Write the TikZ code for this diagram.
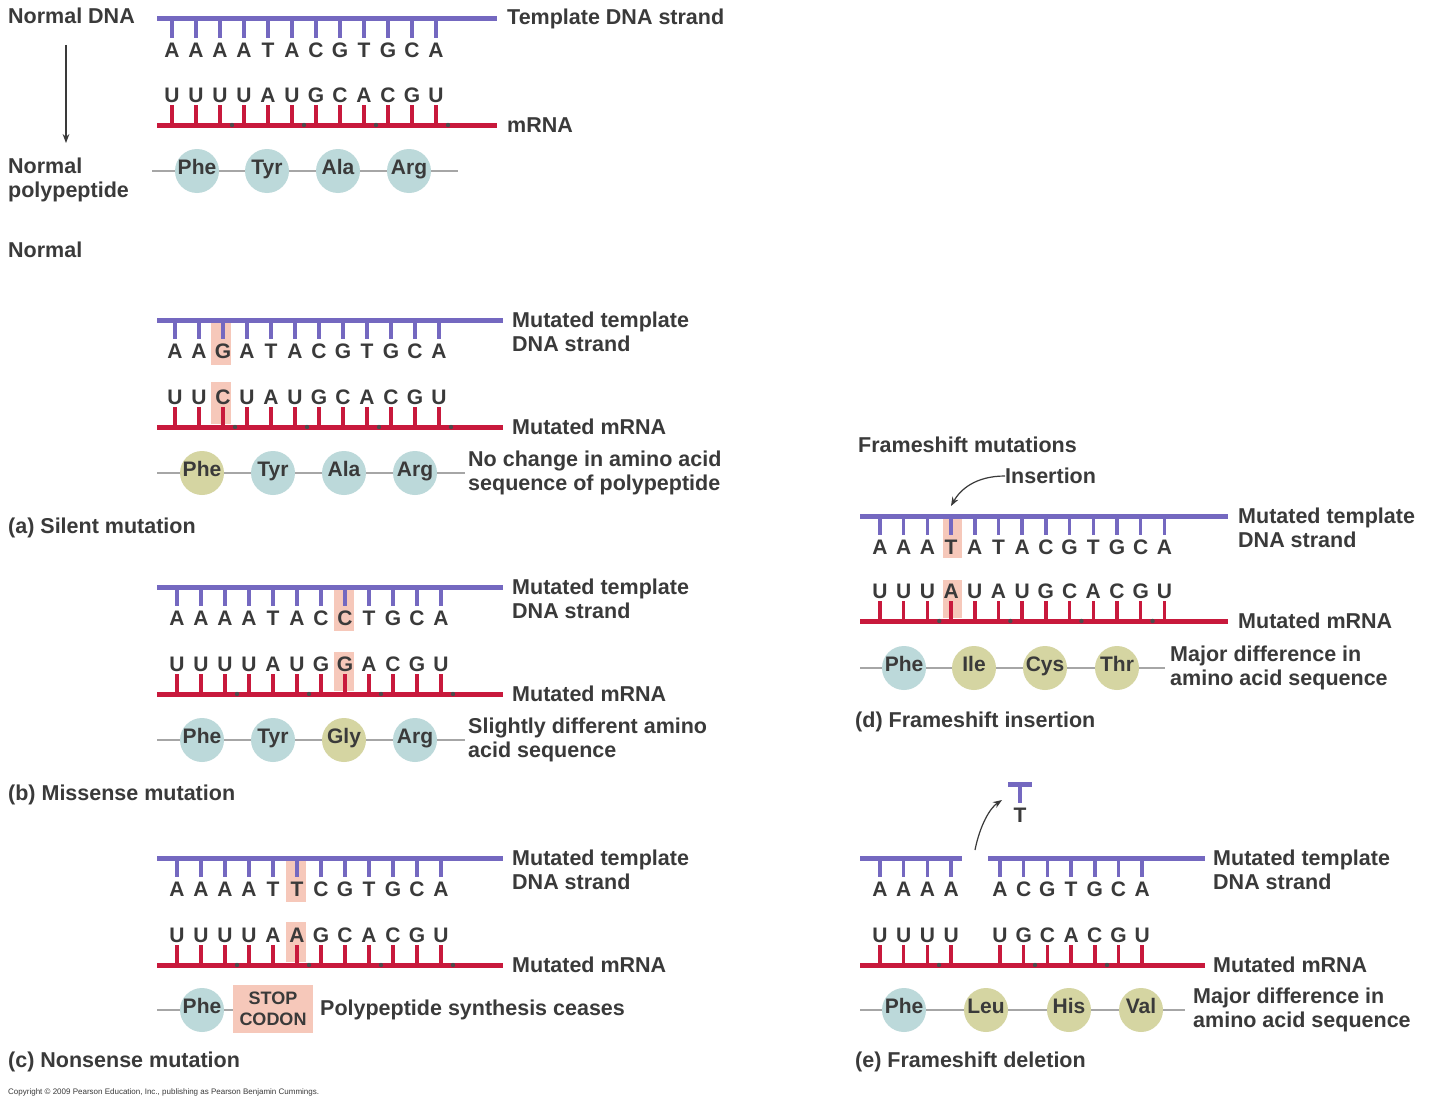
\documentclass[tikz,border=0pt]{standalone}
\usepackage{fontspec}
\setmainfont{Liberation Sans}
\usetikzlibrary{arrows.meta}
\begin{document}
\begin{tikzpicture}[x=1pt,y=-1pt,font=\fontsize{21}{23}\selectfont\bfseries]
\definecolor{dnac}{HTML}{7468C0}
\definecolor{rnac}{HTML}{C8193C}
\definecolor{txt}{HTML}{3A3A3A}
\definecolor{aab}{HTML}{BCD9DA}
\definecolor{aao}{HTML}{D5D5A2}
\definecolor{hl}{HTML}{F6C8BA}
\tikzset{
 dnaline/.style={line width=5pt,draw=dnac},
 rnaline/.style={line width=5pt,draw=rnac},
 dtick/.style={line width=3.5pt,draw=dnac},
 rtick/.style={line width=3.5pt,draw=rnac},
 base/.style={text=txt,inner sep=0pt},
 lbl/.style={text=txt,anchor=west,align=left,inner sep=0pt,font=\fontsize{21.5}{23.5}\selectfont\bfseries},
 aa/.style={circle,minimum size=44pt,inner sep=0pt,text=txt,fill=#1,text height=1.5ex,text depth=.3ex},
 chain/.style={draw=gray!70,line width=1.5pt},
}
\newcommand\dnaTicks[4]{\foreach \l [count=\i from 0] in {#4}{\draw[dtick] ({#1+#2*\i},#3) -- ++(0,19); \node[base] at ({#1+#2*\i},#3+31) {\l};}}
\newcommand\rnaTicks[4]{\foreach \l [count=\i from 0] in {#4}{\draw[rtick] ({#1+#2*\i},#3) -- ++(0,-20); \node[base] at ({#1+#2*\i},#3-30) {\l};}}
\newcommand\codonDots[3]{\foreach \i in {0,1,2,3}{\fill[black!70] ({#1+#2*(2.5+3*\i)},#3) circle (2.2);}}
\useasboundingbox (0,0) rectangle (1440,1108);
\fill[white] (0,0) rectangle (1440,1108);

% ---------- Normal ----------
\node[lbl,anchor=north west] (ndna) at (8,8) {Normal DNA};
\draw[dnaline] (157,19) -- (497,19);
\dnaTicks{172}{24}{19}{A,A,A,A,T,A,C,G,T,G,C,A}
\node[lbl] (t0) at (507,19) {Template DNA strand};
\draw[rnaline] (157,125) -- (497,125);
\rnaTicks{172}{24}{125}{U,U,U,U,A,U,G,C,A,C,G,U}
\codonDots{172}{24}{125}
\node[lbl] (m0) at (507,125) {mRNA};
\node[lbl,anchor=north west] (npp) at (8,158) {Normal\\polypeptide};
\draw[-{Stealth[length=9pt]},line width=1.2pt,txt] (66,45) -- (66,143);
\draw[chain] (152,171) -- (458,171);
\foreach \x/\t [count=\k] in {197/Phe,267/Tyr,338/Ala,409/Arg}{\node[aa=aab] (p0\k) at (\x,171) {\t};}
\node[lbl] (nor) at (8,250) {Normal};

% ---------- (a) ----------
\fill[hl] (211,323) rectangle (231,365);
\fill[hl] (211,382) rectangle (231,424);
\draw[dnaline] (157,320) -- (503,320);
\dnaTicks{175}{24}{320}{A,A,G,A,T,A,C,G,T,G,C,A}
\node[lbl] at (512,332) {Mutated template\\DNA strand};
\draw[rnaline] (157,427) -- (503,427);
\rnaTicks{175}{24}{427}{U,U,C,U,A,U,G,C,A,C,G,U}
\codonDots{175}{24}{427}
\node[lbl] at (512,427) {Mutated mRNA};
\draw[chain] (157,473) -- (465,473);
\foreach \x/\t/\c [count=\k] in {202/Phe/aao,273/Tyr/aab,344/Ala/aab,415/Arg/aab}{\node[aa=\c] (pa\k) at (\x,473) {\t};}
\node[lbl] at (468,473) {No change in amino acid\\sequence of polypeptide};
\node[lbl] at (8,528) {(a) Silent mutation};

% ---------- (b) ----------
\fill[hl] (334,590) rectangle (354,631);
\fill[hl] (334,652) rectangle (354,691);
\draw[dnaline] (157,587) -- (503,587);
\dnaTicks{177}{24}{587}{A,A,A,A,T,A,C,C,T,G,C,A}
\node[lbl] at (512,599) {Mutated template\\DNA strand};
\draw[rnaline] (157,694) -- (503,694);
\rnaTicks{177}{24}{694}{U,U,U,U,A,U,G,G,A,C,G,U}
\codonDots{177}{24}{694}
\node[lbl] at (512,694) {Mutated mRNA};
\draw[chain] (157,740) -- (465,740);
\foreach \x/\t/\c [count=\k] in {202/Phe/aab,273/Tyr/aab,344/Gly/aao,415/Arg/aab}{\node[aa=\c] (pb\k) at (\x,740) {\t};}
\node[lbl] at (468,740) {Slightly different amino\\acid sequence};
\node[lbl] at (8,795) {(b) Missense mutation};

% ---------- (c) ----------
\fill[hl] (286,861) rectangle (306,902);
\fill[hl] (286,922) rectangle (306,962);
\draw[dnaline] (157,858) -- (503,858);
\dnaTicks{177}{24}{858}{A,A,A,A,T,T,C,G,T,G,C,A}
\node[lbl] at (512,870) {Mutated template\\DNA strand};
\draw[rnaline] (157,965) -- (503,965);
\rnaTicks{177}{24}{965}{U,U,U,U,A,A,G,C,A,C,G,U}
\codonDots{177}{24}{965}
\node[lbl] at (512,965) {Mutated mRNA};
\draw[chain] (157,1010) -- (233,1010);
\node[aa=aab] (pc1) at (202,1010) {Phe};
\node[fill=hl,text=txt,minimum width=80pt,minimum height=48pt,inner sep=0pt,align=center,font=\fontsize{18}{21}\selectfont\bfseries] (stop) at (273,1009) {STOP\\CODON};
\node[lbl] at (320,1010) {Polypeptide synthesis ceases};
\node[lbl] at (8,1062) {(c) Nonsense mutation};

% ---------- (d) ----------
\node[lbl] (fm) at (858,445) {Frameshift mutations};
\node[lbl] (ins) at (1005,476) {Insertion};
\fill[hl] (943,519) rectangle (962,558);
\fill[hl] (943,580) rectangle (962,618);
\draw[-{Stealth[length=9pt]},line width=1.2pt,txt] (ins.west) .. controls (975,476) and (960,490) .. (951,506);
\draw[dnaline] (860,516) -- (1228,516);
\dnaTicks{880}{23.7}{516}{A,A,A,T,A,T,A,C,G,T,G,C,A}
\node[lbl] at (1238,528) {Mutated template\\DNA strand};
\draw[rnaline] (860,621) -- (1228,621);
\rnaTicks{880}{23.7}{621}{U,U,U,A,U,A,U,G,C,A,C,G,U}
\codonDots{880}{23.7}{621}
\node[lbl] at (1238,621) {Mutated mRNA};
\draw[chain] (860,668) -- (1165,668);
\foreach \x/\t/\c [count=\k] in {904/Phe/aab,974/Ile/aao,1045/Cys/aao,1117/Thr/aao}{\node[aa=\c] (pd\k) at (\x,668) {\t};}
\node[lbl] at (1170,668) {Major difference in\\amino acid sequence};
\node[lbl] at (855,722) {(d) Frameshift insertion};

% ---------- (e) ----------
\draw[dnaline] (1008,784) -- (1032,784);
\draw[dtick] (1020,784) -- ++(0,19);
\node[base] (delT) at (1020,815) {T};
\draw[-{Stealth[length=9pt]},line width=1.2pt,txt] (975,850) .. controls (980,825) and (990,808) .. (1002,800);
\draw[dnaline] (860,858) -- (962,858);
\draw[dnaline] (988,858) -- (1205,858);
\dnaTicks{880}{23.7}{858}{A,A,A,A}
\dnaTicks{1000}{23.7}{858}{A,C,G,T,G,C,A}
\node[lbl] at (1213,870) {Mutated template\\DNA strand};
\draw[rnaline] (860,965) -- (1205,965);
\rnaTicks{880}{23.7}{965}{U,U,U,U}
\rnaTicks{1000}{23.7}{965}{U,G,C,A,C,G,U}
\foreach \x in {939,1035,1107}{\fill[black!70] (\x,965) circle (2.2);}
\node[lbl] at (1213,965) {Mutated mRNA};
\draw[chain] (860,1010) -- (1185,1010);
\foreach \x/\t/\c [count=\k] in {904/Phe/aab,986/Leu/aao,1069/His/aao,1141/Val/aao}{\node[aa=\c] (pe\k) at (\x,1010) {\t};}
\node[lbl] at (1193,1010) {Major difference in\\amino acid sequence};
\node[lbl] at (855,1062) {(e) Frameshift deletion};

\node[lbl,font=\fontsize{8}{9}\selectfont] at (8,1092) {Copyright \textcopyright\ 2009 Pearson Education, Inc., publishing as Pearson Benjamin Cummings.};
\end{tikzpicture}
\end{document}
